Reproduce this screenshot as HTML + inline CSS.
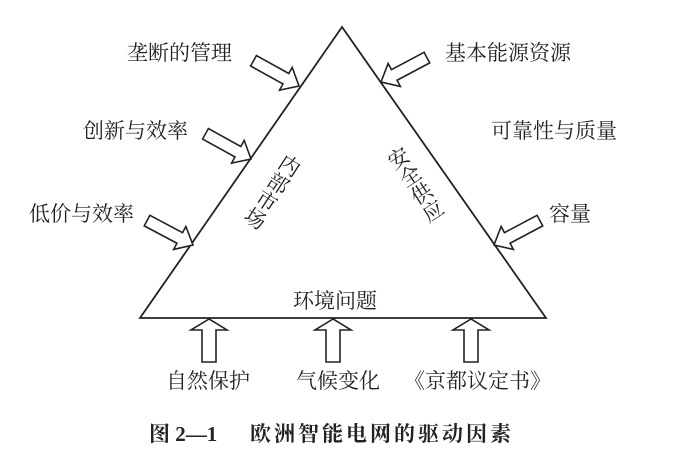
<!DOCTYPE html>
<html><head><meta charset="utf-8"><style>
html,body{margin:0;padding:0;background:#fff;}
svg{display:block;}
text{font-family:"Liberation Serif","Noto Serif CJK SC","Noto Sans CJK SC",serif;fill:#222;}
</style></head><body>
<svg width="680" height="463" viewBox="0 0 680 463" xmlns="http://www.w3.org/2000/svg">
<defs>
<polygon id="ar" points="0,0 -15,-13 -15,-6 -52,-6 -52,6 -15,6 -15,13" fill="#fff" stroke="#222" stroke-width="1.6" stroke-linejoin="miter"/>
<polygon id="up" points="0,0 -18,11 -7,11 -7,43 7,43 7,11 18,11" fill="#fff" stroke="#222" stroke-width="1.6"/>
</defs>
<polygon points="342,27 140,318 546,318" fill="none" stroke="#222" stroke-width="1.8"/>
<use href="#ar" transform="translate(299,86) rotate(29)"/>
<use href="#ar" transform="translate(251,159) rotate(29)"/>
<use href="#ar" transform="translate(193,245) rotate(28)"/>
<use href="#ar" transform="translate(381,82) rotate(152)"/>
<use href="#ar" transform="translate(494,245) rotate(152)"/>
<use href="#up" transform="translate(209,319)"/>
<use href="#up" transform="translate(333,319)"/>
<use href="#up" transform="translate(471,319)"/>
<g font-size="21">
<text x="127" y="60">垄断的管理</text>
<text x="83" y="138">创新与效率</text>
<text x="29" y="221">低价与效率</text>
<text x="445" y="60">基本能源资源</text>
<text x="491" y="138">可靠性与质量</text>
<text x="549" y="221">容量</text>
<text x="293" y="308">环境问题</text>
<text x="166" y="388">自然保护</text>
<text x="296" y="388">气候变化</text>
<text x="404" y="388">《京都议定书》</text>
<g transform="translate(270,190) rotate(33)"><text x="0" y="0" text-anchor="middle" writing-mode="tb" style="writing-mode:vertical-rl" dominant-baseline="middle">内部市场</text></g>
<g transform="translate(413,186) rotate(-33)"><text x="0" y="0" text-anchor="middle" writing-mode="tb" style="writing-mode:vertical-rl" dominant-baseline="middle">安全供应</text></g>
</g>
<g font-size="21" font-weight="bold">
<text x="149" y="441">图 2—1</text>
<text x="250" y="441" letter-spacing="3">欧洲智能电网的驱动因素</text>
</g>
</svg>
</body></html>
